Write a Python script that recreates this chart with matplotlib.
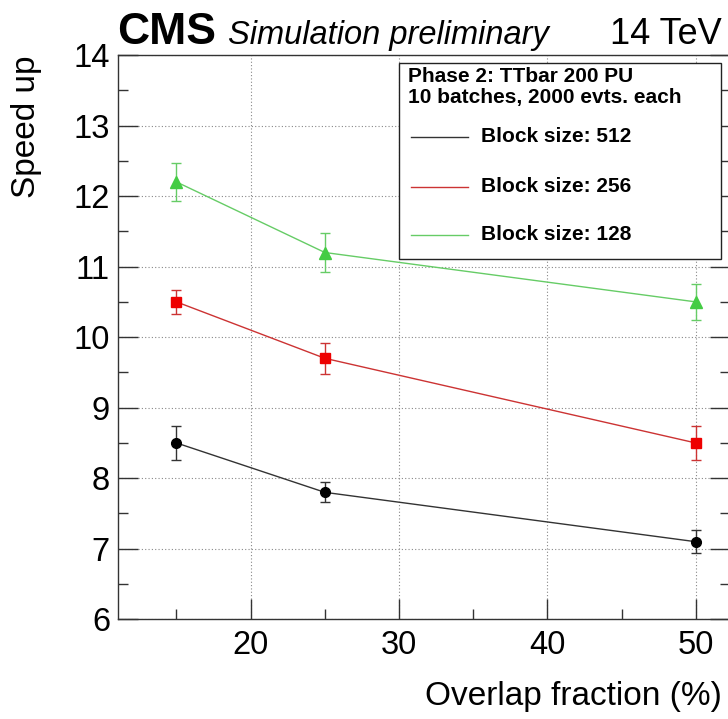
import matplotlib
matplotlib.use("Agg")
import matplotlib.pyplot as plt
from matplotlib.ticker import MultipleLocator, FixedLocator
from matplotlib.lines import Line2D
from matplotlib.patches import Rectangle

plt.rcParams['font.family'] = ['Liberation Sans', 'DejaVu Sans']

overlap = [15, 25, 50]
speed_512 = [8.5, 7.8, 7.1]
err_512 = [0.24, 0.14, 0.16]
speed_256 = [10.5, 9.7, 8.5]
err_256 = [0.17, 0.22, 0.24]
speed_128 = [12.2, 11.2, 10.5]
err_128 = [0.27, 0.27, 0.25]
labels = ["Block size: 512", "Block size: 256", "Block size: 128"]

W, H = 728, 719
fig = plt.figure(figsize=(W/100, H/100), dpi=100)
L, R, T, B = 118.3, 730, 55, 619.3
ax = fig.add_axes([L/W, 1-B/H, (R-L)/W, (B-T)/H])

series = [
    (speed_512, err_512, '#000000', '#333333', 'o', 7),
    (speed_256, err_256, '#ee0000', '#cc3333', 's', 7),
    (speed_128, err_128, '#44cc44', '#66cc66', '^', 8),
]
handles = []
for (vals, errs, mc, lc, mk, ms), lab in zip(series, labels):
    ax.errorbar(overlap, vals, yerr=errs, color=lc, ecolor=lc, elinewidth=1,
                capsize=3.5, capthick=1, marker=mk, markersize=ms,
                markerfacecolor=mc, markeredgecolor=mc, linewidth=1, zorder=3)
    handles.append(Line2D([], [], color=lc, linewidth=1))

ax.set_xlim(11.077, 52.31)
ax.set_ylim(6, 14)
ax.xaxis.set_major_locator(FixedLocator([20, 30, 40, 50]))
ax.xaxis.set_minor_locator(FixedLocator([15, 25, 35, 45]))
ax.yaxis.set_major_locator(MultipleLocator(1))
ax.yaxis.set_minor_locator(MultipleLocator(0.5))
ax.tick_params(which='both', direction='in', top=False, right=True,
               color='#333333', width=1)
ax.tick_params(which='major', length=14.4, labelsize=23.5, pad=8)
ax.tick_params(which='minor', length=7.2)
ax.tick_params(axis='y', which='major', pad=6)
ax.grid(True, which='major', linestyle=(0, (1, 2)), color='#888888', linewidth=0.8)
for s in ax.spines.values():
    s.set_color('#333333')
    s.set_linewidth(1)

fig.text(722/W, 1-705/H, "Overlap fraction (%)", ha='right', va='baseline', fontsize=24)
fig.text(27/W, 1-55/H, "Speed up", ha='center', va='top', rotation=90, fontsize=24)

fig.text(117/W, 1-44/H, "CMS", ha='left', va='baseline', fontsize=32, fontweight='bold')
fig.text(228/W, 1-44/H, "Simulation preliminary", ha='left', va='baseline', fontsize=23.5, style='italic')
fig.text(722/W, 1-44/H, "14 TeV", ha='right', va='baseline', fontsize=26)

# legend box
bx0, bx1, by0, by1 = 399, 721, 63, 259
fig.patches.append(Rectangle((bx0/W, 1-by1/H), (bx1-bx0)/W, (by1-by0)/H,
                             transform=fig.transFigure, facecolor='white',
                             edgecolor='#222222', linewidth=1, zorder=5))
fig.text(408/W, 1-77/H, "Phase 2: TTbar 200 PU", ha='left', va='center', fontsize=15, fontweight='bold', zorder=6)
fig.text(408/W, 1-98/H, "10 batches, 2000 evts. each", ha='left', va='center', fontsize=15, fontweight='bold', zorder=6)
for h, lab, yy in zip(handles, labels, [137, 187, 235]):
    fig.lines.append(Line2D([411/W, 468/W], [1-yy/H, 1-yy/H], transform=fig.transFigure,
                            color=h.get_color(), linewidth=1, zorder=6))
    fig.text(481/W, 1-yy/H, lab, ha='left', va='center', fontsize=15, fontweight='bold', zorder=6)

fig.savefig("out.png", dpi=100)
